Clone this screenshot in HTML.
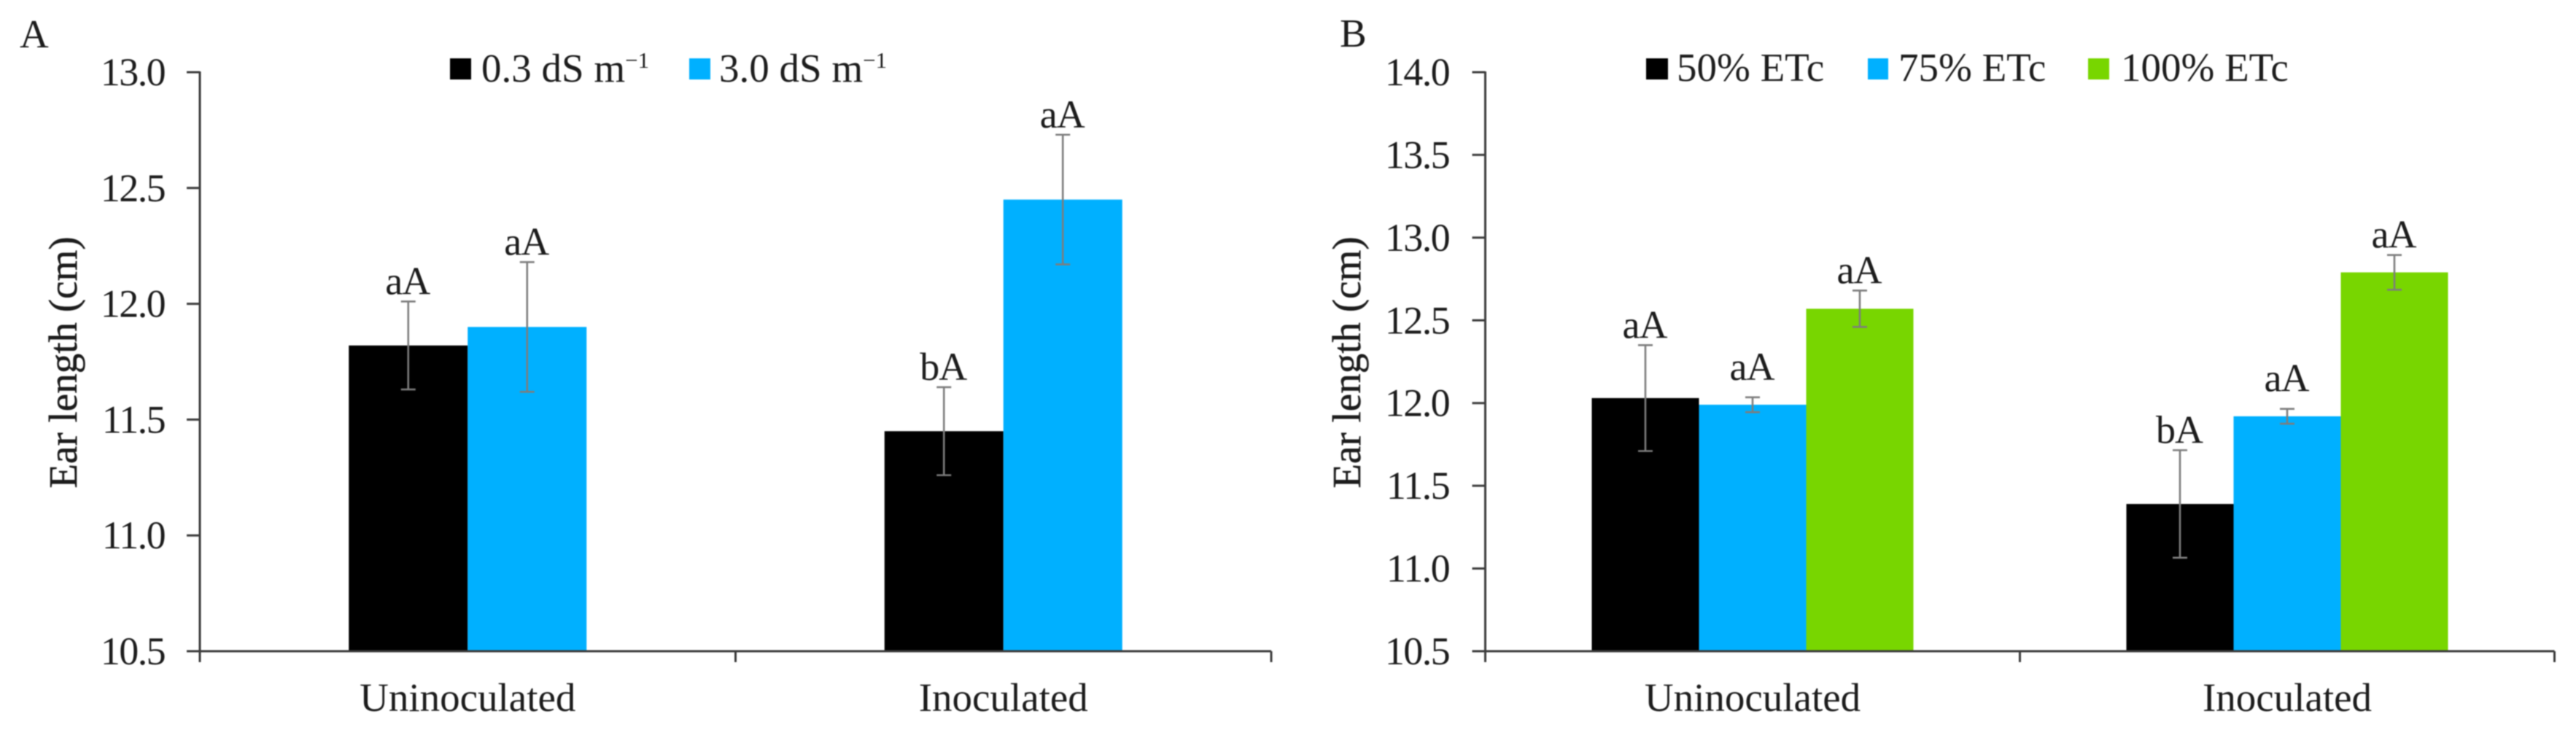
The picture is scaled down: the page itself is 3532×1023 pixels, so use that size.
<!DOCTYPE html>
<html lang="en">
<head>
<meta charset="utf-8">
<title>Ear length by inoculation, salinity and irrigation</title>
<style>
html,body{margin:0;padding:0;background:#fff;width:3532px;height:1023px;overflow:hidden}
svg{display:block;filter:blur(0.8px)}
text{font-family:"Liberation Serif","Times New Roman",serif;fill:#1c1c1c;font-size:55px}
.tick-label{font-size:54px;letter-spacing:-1.6px;text-anchor:end}
.cat-label{text-anchor:middle}
.sig-label{font-size:54px;letter-spacing:-1px;text-anchor:middle}
.axis-title{stroke:#1c1c1c;stroke-width:0.5px}
.sup{font-size:31px}
</style>
</head>
<body>
<svg id="fig" xmlns="http://www.w3.org/2000/svg" width="3532" height="1023" viewBox="0 0 3532 1023">
  <rect x="0" y="0" width="3532" height="1023" fill="#fff"/>

  <g id="panelA">
    <text x="27" y="65">A</text>
    <text class="axis-title" transform="translate(105,497) rotate(-90)" text-anchor="middle">Ear length (cm)</text>
    <g>
      <g>
        <rect x="617" y="80" width="29" height="29" fill="#000000"/>
        <text x="660" y="112">0.3 dS m<tspan class="sup" dy="-19">−1</tspan></text>
      </g>
      <g>
        <rect x="945" y="80" width="29" height="29" fill="#00b0ff"/>
        <text x="986" y="112">3.0 dS m<tspan class="sup" dy="-19">−1</tspan></text>
      </g>
    </g>
  </g>

  <g id="panelB">
    <text x="1837" y="64">B</text>
    <text class="axis-title" transform="translate(1865,497) rotate(-90)" text-anchor="middle">Ear length (cm)</text>
    <g>
      <g>
        <rect x="2257" y="80" width="30" height="29" fill="#000000"/>
        <text x="2299" y="111">50% ETc</text>
      </g>
      <g>
        <rect x="2561" y="80" width="28" height="29" fill="#00b0ff"/>
        <text x="2603" y="111">75% ETc</text>
      </g>
      <g>
        <rect x="2863" y="80" width="29" height="29" fill="#78d600"/>
        <text x="2908" y="111">100% ETc</text>
      </g>
    </g>
  </g>
</svg>

<script>
// Panel A data
const categoriesA = ['Uninoculated', 'Inoculated'];
const tickLabelsA = ['10.5', '11.0', '11.5', '12.0', '12.5', '13.0'];
const seriesKeysA = ['0-3-ds', '3-0-ds'];
const seriesColorsA = ['#000000', '#00b0ff'];
const meansA_03 = [11.82, 11.45];
const meansA_30 = [11.90, 12.45];
const errorsA_03 = [0.19, 0.19];
const errorsA_30 = [0.28, 0.28];
const lettersA_03 = ['aA', 'bA'];
const lettersA_30 = ['aA', 'aA'];

// Panel B data
const categoriesB = ['Uninoculated', 'Inoculated'];
const tickLabelsB = ['10.5', '11.0', '11.5', '12.0', '12.5', '13.0', '13.5', '14.0'];
const seriesKeysB = ['50-etc', '75-etc', '100-etc'];
const seriesColorsB = ['#000000', '#00b0ff', '#78d600'];
const meansB_50 = [12.03, 11.39];
const meansB_75 = [11.99, 11.92];
const meansB_100 = [12.57, 12.79];
const errorsB_50 = [0.32, 0.325];
const errorsB_75 = [0.045, 0.045];
const errorsB_100 = [0.11, 0.105];
const lettersB_50 = ['aA', 'bA'];
const lettersB_75 = ['aA', 'aA'];
const lettersB_100 = ['aA', 'aA'];

const SVG_NS = 'http://www.w3.org/2000/svg';

function make(parent, tag, attrs, text) {
  const el = document.createElementNS(SVG_NS, tag);
  for (const k in attrs) el.setAttribute(k, attrs[k]);
  if (text !== undefined) el.textContent = text;
  parent.appendChild(el);
  return el;
}

function drawPanel(p) {
  const root = document.getElementById(p.id);
  const lo = parseFloat(p.ticks[0]);
  const hi = parseFloat(p.ticks[p.ticks.length - 1]);
  const yOf = v => p.bottom - (v - lo) / (hi - lo) * (p.bottom - p.top);
  const catW = (p.right - p.left) / p.categories.length;
  const catCenter = i => p.left + catW * (i + 0.5);
  const barX = (c, s) => catCenter(c) - p.barW * p.means.length / 2 + s * p.barW;

  // bars
  const barsG = make(root, 'g', {});
  
  
  p.means.forEach((vals, s) => {
    vals.forEach((v, c) => {
      const bar = make(barsG, 'rect', {
        x: barX(c, s), y: yOf(v), width: p.barW, height: p.bottom - yOf(v), fill: p.colors[s]
      });
      
      
    });
  });

  // axes
  const axisStyle = { stroke: '#3c3c3c', 'stroke-width': 3, fill: 'none' };
  const yAxis = make(root, 'line', Object.assign({ x1: p.left, x2: p.left, y1: p.top - 1, y2: p.bottom + 15 }, axisStyle));
  
  
  const xAxis = make(root, 'line', Object.assign({ x1: p.left - 18, x2: p.right, y1: p.bottom, y2: p.bottom }, axisStyle));
  
  

  // y ticks
  p.ticks.forEach(label => {
    const ty = yOf(parseFloat(label));
    const tick = make(root, 'line', Object.assign({ x1: p.left - 18, x2: p.left, y1: ty, y2: ty }, axisStyle));
    
    
    const txt = make(root, 'text', { x: p.tickRight, y: ty + 18, class: 'tick-label' }, label);
    
    
  });

  // x ticks
  for (let i = 0; i <= p.categories.length; i++) {
    const tx = p.left + catW * i;
    const tick = make(root, 'line', Object.assign({ x1: tx, x2: tx, y1: p.bottom, y2: p.bottom + 15 }, axisStyle));
    
    
  }

  // category labels
  p.categories.forEach((name, c) => {
    const txt = make(root, 'text', { x: catCenter(c), y: 975, class: 'cat-label' }, name);
    
    
  });

  // error bars and significance letters
  p.means.forEach((vals, s) => {
    vals.forEach((v, c) => {
      const cx = barX(c, s) + p.barW / 2;
      const hiY = yOf(v + p.errors[s][c]);
      const loY = yOf(v - p.errors[s][c]);
      const g = make(root, 'g', { stroke: '#7d7d7d', 'stroke-width': 2.6, fill: 'none' });
      
      
      make(g, 'line', { x1: cx, x2: cx, y1: hiY, y2: loY });
      make(g, 'line', { x1: cx - 10, x2: cx + 10, y1: hiY, y2: hiY });
      make(g, 'line', { x1: cx - 10, x2: cx + 10, y1: loY, y2: loY });
      const gap = p.errors[s][c] < 0.08 ? 24 : 10;
      const sig = make(root, 'text', { x: cx - 1, y: hiY - gap, class: 'sig-label' }, p.letters[s][c]);
      
      
    });
  });
}

drawPanel({
  id: 'panelA', tag: 'panel-a',
  left: 274, right: 1743, top: 99, bottom: 893, tickRight: 226, barW: 163,
  ticks: tickLabelsA, categories: categoriesA, keys: seriesKeysA, colors: seriesColorsA,
  means: [meansA_03, meansA_30],
  errors: [errorsA_03, errorsA_30],
  letters: [lettersA_03, lettersA_30]
});

drawPanel({
  id: 'panelB', tag: 'panel-b',
  left: 2036.5, right: 3502.5, top: 99, bottom: 893, tickRight: 1987, barW: 147,
  ticks: tickLabelsB, categories: categoriesB, keys: seriesKeysB, colors: seriesColorsB,
  means: [meansB_50, meansB_75, meansB_100],
  errors: [errorsB_50, errorsB_75, errorsB_100],
  letters: [lettersB_50, lettersB_75, lettersB_100]
});
</script>
</body>
</html>
